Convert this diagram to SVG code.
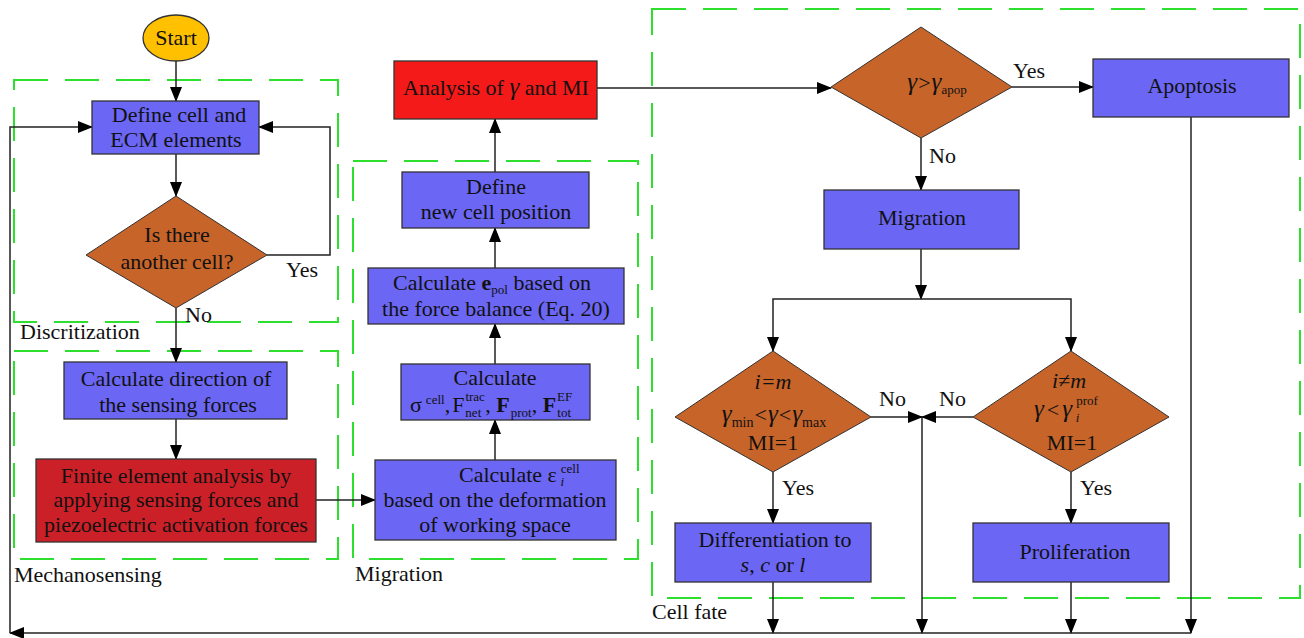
<svg xmlns="http://www.w3.org/2000/svg" width="1304" height="638" viewBox="0 0 1304 638">
<style>
text{font-family:"Liberation Serif","Times New Roman",serif;font-size:22px;fill:#111}
.m{text-anchor:middle}
.s{font-size:13px}
.it{font-style:italic}
.gm{font-style:italic;font-size:25px}
.bd{font-weight:bold}
.b{fill:#6B66F4;stroke:#333;stroke-width:1.3}
.d{fill:#C6642A;stroke:#333;stroke-width:1}
.r{fill:#CC2028;stroke:#333;stroke-width:1.3}
.r2{fill:#F41A1A;stroke:#333;stroke-width:1.3}
.g{fill:none;stroke:#2EE02E;stroke-width:2;stroke-dasharray:34 17}
.c{fill:none;stroke:#222;stroke-width:1.5}
.a{marker-end:url(#ah)}
</style>
<defs>
<marker id="ah" markerWidth="15" markerHeight="12" refX="14" refY="6" orient="auto" markerUnits="userSpaceOnUse">
<path d="M0,0 L15,6 L0,12 z" fill="#000"/>
</marker>
</defs>
<rect width="1304" height="638" fill="#fff"/>

<g id="groups">
<rect class="g" x="14" y="80" width="324" height="242"/>
<text x="20" y="339">Discritization</text>
<rect class="g" x="14" y="351" width="324" height="208"/>
<text x="14" y="582">Mechanosensing</text>
<rect class="g" x="353" y="161" width="285" height="398"/>
<text x="355" y="581">Migration</text>
<rect class="g" x="652" y="9" width="648" height="589"/>
<text x="652" y="619">Cell fate</text>
</g>

<g id="connectors">
<path class="c a" d="M176,61 V101"/>
<path class="c a" d="M176,154 V196"/>
<path class="c a" d="M267,255 H330 V127 H259"/>
<path class="c a" d="M176,308 V362"/>
<path class="c a" d="M176,419 V459"/>
<path class="c a" d="M316,500 H375"/>
<path class="c a" d="M495,460 V420"/>
<path class="c a" d="M495,364 V324"/>
<path class="c a" d="M495,268 V228"/>
<path class="c a" d="M495,172 V119"/>
<path class="c a" d="M597,88 H831"/>
<path class="c a" d="M1012,87 H1093"/>
<path class="c a" d="M921,138 V190"/>
<path class="c a" d="M921,249 V299"/>
<path class="c a" d="M921,299 H773 V351"/>
<path class="c a" d="M921,299 H1071 V351"/>
<path class="c a" d="M871,417 H922"/>
<path class="c a" d="M973,417 H922"/>
<path class="c a" d="M922,417 V633"/>
<path class="c a" d="M773,472 V523"/>
<path class="c a" d="M1071,472 V523"/>
<path class="c a" d="M773,582 V633"/>
<path class="c a" d="M1071,582 V633"/>
<path class="c a" d="M1191,117 V633"/>
<path class="c a" d="M1191,633 H10"/>
<path class="c a" d="M10,633 V127 H92"/>
<text x="286" y="277">Yes</text>
<text x="185" y="322">No</text>
<text x="1013" y="78">Yes</text>
<text x="929" y="163">No</text>
<text x="879" y="406">No</text>
<text x="939" y="406">No</text>
<text x="782" y="495">Yes</text>
<text x="1080" y="495">Yes</text>
</g>

<g id="start">
<ellipse cx="176" cy="38" rx="33" ry="23" fill="#FFC000" stroke="#333" stroke-width="1.3"/>
<text class="m" x="176" y="45">Start</text>
</g>

<g id="define-cell">
<rect class="b" x="92" y="101" width="167" height="53"/>
<text class="m" x="179" y="122">Define cell and</text>
<text class="m" x="176" y="147">ECM elements</text>
</g>

<g id="another-cell">
<polygon class="d" points="176,196 267,255 176,308 86,255"/>
<text class="m" x="177" y="242">Is there</text>
<text class="m" x="177" y="269">another cell?</text>
</g>

<g id="calc-direction">
<rect class="b" x="64" y="362" width="223" height="57"/>
<text class="m" x="176" y="386">Calculate direction of</text>
<text class="m" x="178" y="412">the sensing forces</text>
</g>

<g id="fe-analysis">
<rect class="r" x="36" y="459" width="280" height="83"/>
<text class="m" x="176" y="483">Finite element analysis by</text>
<text class="m" x="176" y="507">applying sensing forces and</text>
<text class="m" x="176" y="532">piezoelectric activation forces</text>
</g>

<g id="calc-eps">
<rect class="b" x="375" y="460" width="241" height="80"/>
<text x="459" y="482">Calculate ε<tspan class="s" dx="4" dy="-9">cell</tspan><tspan class="s it" dx="-19" dy="13">i</tspan></text>
<text class="m" x="495" y="507">based on the deformation</text>
<text class="m" x="495" y="532">of working space</text>
</g>

<g id="calc-sigma">
<rect class="b" x="401" y="364" width="189" height="56"/>
<text class="m" x="495" y="385">Calculate</text>
<text x="410" y="412">σ<tspan class="s" dx="4" dy="-8">cell</tspan><tspan dy="8">,</tspan><tspan dx="2">F</tspan><tspan class="s" dx="1" dy="-11">trac</tspan><tspan class="s" dx="-19.5" dy="16">net</tspan><tspan dx="4" dy="-5">, </tspan><tspan class="bd">F</tspan><tspan class="s" dx="1" dy="5">prot</tspan><tspan dy="-5">, </tspan><tspan class="bd">F</tspan><tspan class="s" dx="1" dy="-11">EF</tspan><tspan class="s" dx="-15" dy="16">tot</tspan></text>
</g>

<g id="calc-epol">
<rect class="b" x="368" y="268" width="256" height="56"/>
<text x="393" y="290">Calculate <tspan class="bd">e</tspan><tspan class="s" baseline-shift="-4">pol</tspan>  based on</text>
<text class="m" x="496" y="316">the force balance (Eq. 20)</text>
</g>

<g id="new-position">
<rect class="b" x="402" y="172" width="187" height="56"/>
<text class="m" x="496" y="194">Define</text>
<text class="m" x="496" y="219">new cell position</text>
</g>

<g id="analysis">
<rect class="r2" x="394" y="61" width="203" height="58"/>
<text class="m" x="496" y="95">Analysis of <tspan class="gm">γ</tspan> and MI</text>
</g>

<g id="apop-decision">
<polygon class="d" points="921,27 1012,87 921,138 831,87"/>
<text class="m" x="937" y="90"><tspan class="gm">γ</tspan><tspan dx="1">&gt;</tspan><tspan class="gm" dx="1">γ</tspan><tspan class="s" font-size="14" baseline-shift="-4">apop</tspan></text>
</g>

<g id="apoptosis">
<rect class="b" x="1093" y="59" width="196" height="58"/>
<text class="m" x="1192" y="93">Apoptosis</text>
</g>

<g id="migration">
<rect class="b" x="824" y="190" width="195" height="59"/>
<text class="m" x="922" y="225">Migration</text>
</g>

<g id="diff-decision">
<polygon class="d" points="773,351 871,417 773,472 675,417"/>
<text class="m it" x="773" y="389">i=m</text>
<text class="m" x="774" y="422"><tspan class="gm">γ</tspan><tspan style="font-size:14px" baseline-shift="-5">min</tspan><tspan dx="1">&lt;</tspan><tspan class="gm" dx="1">γ</tspan><tspan dx="1">&lt;</tspan><tspan class="gm" dx="1">γ</tspan><tspan style="font-size:14px" baseline-shift="-5">max</tspan></text>
<text class="m" x="773" y="450">MI=1</text>
</g>

<g id="prolif-decision">
<polygon class="d" points="1071,351 1169,417 1071,472 973,417"/>
<text class="m it" x="1069" y="388">i≠m</text>
<text x="1034" y="417"><tspan class="gm">γ</tspan><tspan dx="3">&lt;</tspan><tspan class="gm" dx="3">γ</tspan><tspan class="s" dx="4" dy="-12">prof</tspan><tspan class="s it" dx="-22" dy="17">i</tspan></text>
<text class="m" x="1072" y="450">MI=1</text>
</g>

<g id="differentiation">
<rect class="b" x="675" y="523" width="196" height="59"/>
<text class="m" x="775" y="547">Differentiation to</text>
<text class="m" x="773" y="572"><tspan class="it">s</tspan>, <tspan class="it">c</tspan> or <tspan class="it">l</tspan></text>
</g>

<g id="proliferation">
<rect class="b" x="973" y="523" width="196" height="59"/>
<text class="m" x="1075" y="559">Proliferation</text>
</g>
</svg>
